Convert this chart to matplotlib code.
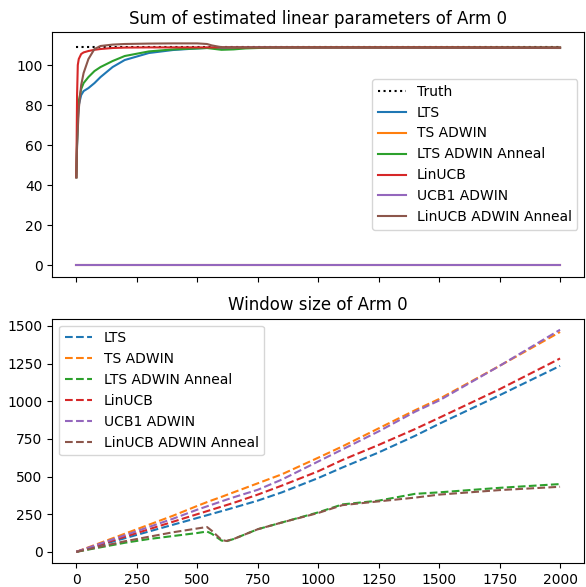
import matplotlib
matplotlib.use("Agg")
import matplotlib.pyplot as plt

labels = ["LTS", "TS ADWIN", "LTS ADWIN Anneal", "LinUCB", "UCB1 ADWIN", "LinUCB ADWIN Anneal"]
colors = ["C0", "C1", "C2", "C3", "C4", "C5"]

# top panel: sum of estimated linear parameters
truth_value = 109.2
t_top = [0, 3, 6, 10, 20, 30, 50, 75, 100, 150, 200, 300, 400, 500, 540, 560, 600, 650, 700, 800, 1000, 1500, 2000]
lts_top = [44, 60, 72, 80, 85, 87, 88.5, 91, 94, 99, 102.5, 106, 107.5, 108.3, 108.5, 108.6, 108.6, 108.7, 108.7, 108.8, 108.8, 108.8, 108.7]
ts_adwin_top = [0] * len(t_top)
lts_anneal_top = [44, 62, 74, 82, 88, 91, 94, 97, 99, 102, 104.5, 106.8, 107.8, 108.3, 108.5, 108.2, 107.6, 107.8, 108.3, 108.7, 108.8, 108.8, 108.7]
linucb_top = [44, 85, 100, 103, 105.5, 106.3, 107, 107.6, 108, 108.5, 108.7, 108.8, 108.8, 108.8, 108.8, 108.8, 108.8, 108.8, 108.8, 108.8, 108.8, 108.8, 108.7]
ucb1_adwin_top = [0] * len(t_top)
linucb_anneal_top = [44, 60, 68, 78, 90, 96, 103, 108, 109.5, 110.2, 110.5, 110.7, 110.8, 110.8, 110.5, 109.8, 108.9, 108.8, 108.8, 108.8, 108.7, 108.6, 108.5]

# bottom panel: window size
t_bot = [0, 100, 200, 300, 400, 500, 540, 560, 600, 620, 650, 750, 850, 1000, 1100, 1250, 1400, 1500, 1750, 2000]
lts_win = [0, 45, 90, 135, 180, 225, 243, 252, 270, 279, 293, 340, 395, 490, 560, 660, 770, 850, 1040, 1235]
ts_adwin_win = [0, 60, 120, 180, 240, 305, 330, 342, 365, 377, 395, 455, 515, 625, 700, 820, 940, 1015, 1235, 1460]
lts_anneal_win = [0, 30, 60, 85, 105, 125, 135, 120, 75, 70, 85, 150, 195, 262, 315, 340, 385, 395, 425, 450]
linucb_win = [0, 50, 100, 150, 200, 250, 270, 280, 300, 310, 325, 380, 440, 535, 610, 710, 815, 890, 1080, 1284]
ucb1_adwin_win = [0, 55, 110, 165, 220, 280, 302, 313, 335, 346, 362, 412, 480, 600, 680, 800, 930, 1005, 1235, 1475]
linucb_anneal_win = [0, 35, 70, 100, 130, 155, 165, 140, 80, 72, 85, 150, 195, 258, 310, 335, 360, 380, 410, 432]

top_series = [lts_top, ts_adwin_top, lts_anneal_top, linucb_top, ucb1_adwin_top, linucb_anneal_top]
bot_series = [lts_win, ts_adwin_win, lts_anneal_win, linucb_win, ucb1_adwin_win, linucb_anneal_win]

fig, (ax1, ax2) = plt.subplots(2, 1, sharex=True, figsize=(5.86, 5.87), dpi=100)

ax1.plot([t_top[0], t_top[-1]], [truth_value, truth_value], ":", color="black", label="Truth")
for vals, lab, col in zip(top_series, labels, colors):
    ax1.plot(t_top, vals, color=col, label=lab)
ax1.set_title("Sum of estimated linear parameters of Arm 0")
ax1.legend(loc="center right")

for vals, lab, col in zip(bot_series, labels, colors):
    ax2.plot(t_bot, vals, "--", color=col, label=lab)
ax2.set_title("Window size of Arm 0")
ax2.legend(loc="upper left")
ax2.set_xticks([0, 250, 500, 750, 1000, 1250, 1500, 1750, 2000])

fig.subplots_adjust(left=0.089, right=0.997, top=0.945, bottom=0.041, hspace=0.172)
fig.savefig("out.png")
